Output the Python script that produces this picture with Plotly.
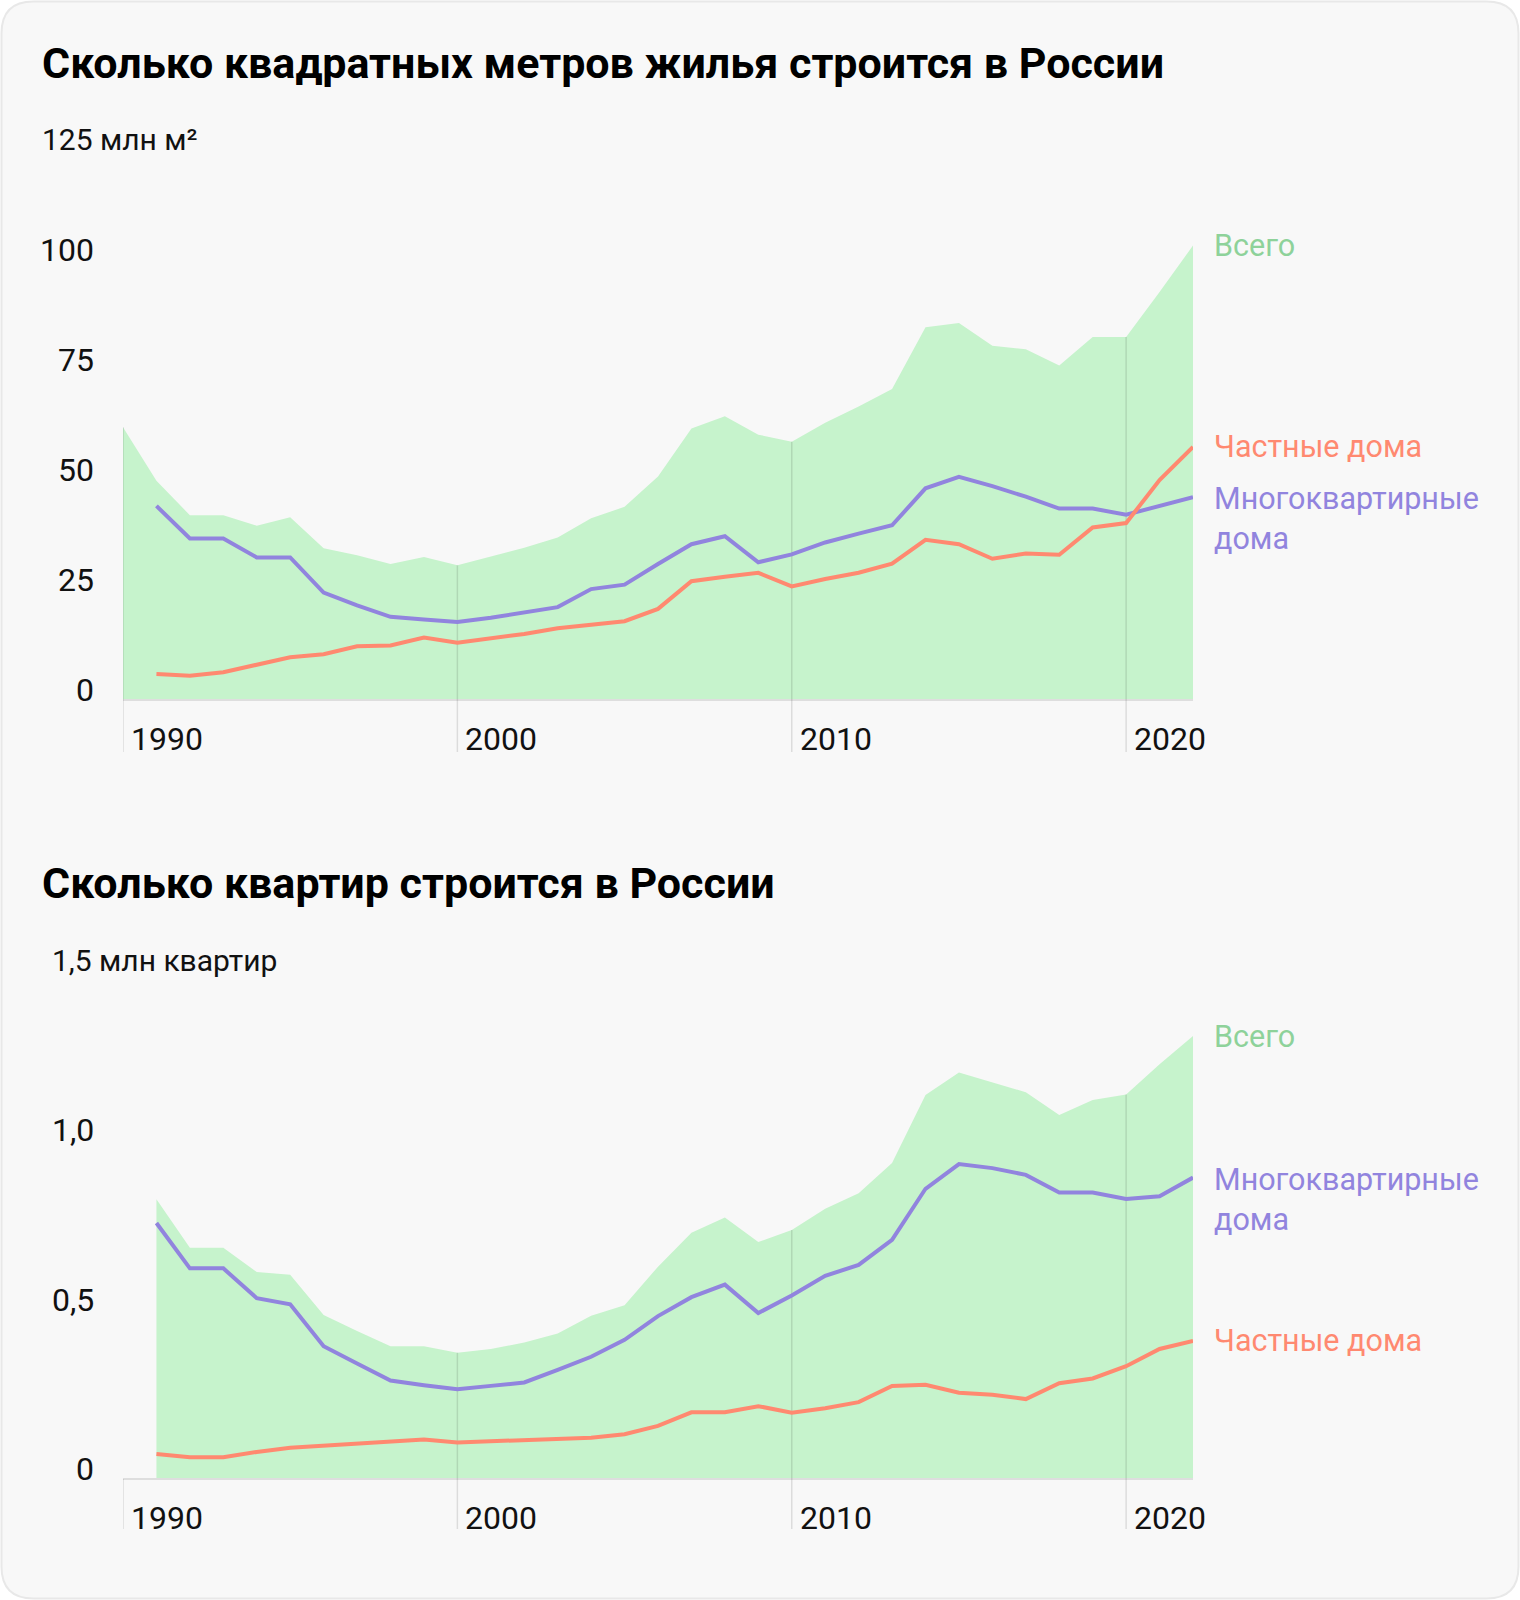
import plotly.graph_objects as go

# ---------------- data ----------------
years_total_top = list(range(1990, 2023))
total_m2 = [62.0, 49.8, 42.0, 42.0, 39.6, 41.5, 34.5, 32.9, 30.9, 32.5,
            30.6, 32.6, 34.6, 36.9, 41.3, 43.9, 50.8, 61.7, 64.5, 60.3,
            58.7, 63.0, 66.7, 70.7, 84.7, 85.7, 80.5, 79.7, 76.0, 82.5,
            82.5, 92.7, 103.3]

years_lines_top = list(range(1991, 2023))
private_m2 = [5.9, 5.5, 6.3, 8.0, 9.7, 10.4, 12.2, 12.4, 14.2, 13.0,
              14.0, 15.0, 16.3, 17.1, 17.9, 20.7, 27.0, 28.0, 28.9, 25.8,
              27.5, 28.9, 31.0, 36.4, 35.4, 32.1, 33.3, 33.0, 39.2, 40.2,
              50.0, 57.5]
multi_m2 = [44.1, 36.7, 36.7, 32.4, 32.4, 24.4, 21.5, 18.9, 18.3, 17.7,
            18.7, 19.9, 21.1, 25.2, 26.2, 30.9, 35.4, 37.2, 31.3, 33.1,
            35.8, 37.8, 39.7, 48.1, 50.7, 48.6, 46.2, 43.5, 43.5, 42.1,
            44.1, 46.1]

years_bottom = list(range(1991, 2023))
total_flats = [0.826, 0.683, 0.683, 0.611, 0.603, 0.484, 0.437, 0.392, 0.392, 0.373,
               0.384, 0.403, 0.430, 0.482, 0.513, 0.627, 0.727, 0.772, 0.700, 0.735,
               0.798, 0.844, 0.933, 1.134, 1.200, 1.170, 1.142, 1.075, 1.119, 1.135,
               1.225, 1.308]
multi_flats = [0.756, 0.622, 0.622, 0.534, 0.516, 0.392, 0.341, 0.291, 0.277, 0.265,
               0.275, 0.285, 0.322, 0.361, 0.411, 0.481, 0.537, 0.574, 0.490, 0.542,
               0.600, 0.632, 0.706, 0.857, 0.930, 0.918, 0.898, 0.846, 0.846, 0.827,
               0.835, 0.890]
private_flats = [0.074, 0.064, 0.064, 0.080, 0.092, 0.098, 0.105, 0.112, 0.117, 0.108,
                 0.112, 0.115, 0.118, 0.122, 0.132, 0.157, 0.197, 0.197, 0.215, 0.196,
                 0.209, 0.227, 0.275, 0.278, 0.255, 0.249, 0.236, 0.283, 0.297, 0.333,
                 0.384, 0.408]

x_ticks = [1990, 2000, 2010, 2020]
y_ticks_top = [0, 25, 50, 75, 100]
y_ticks_top_text = ["0", "25", "50", "75", "100"]
y_ticks_bottom = [0, 0.5, 1.0]
y_ticks_bottom_text = ["0", "0,5", "1,0"]

title_top = "Сколько квадратных метров жилья строится в России"
title_bottom = "Сколько квартир строится в России"
unit_top = "125 млн м²"
unit_bottom = "1,5 млн квартир"
name_total = "Всего"
name_private = "Частные дома"
name_multi = "Многоквартирные<br>дома"

# ---------------- style ----------------
W, H = 1520, 1600
FONT = "Roboto"
GREEN_FILL = "#c6f3cc"
GREEN_TEXT = "#8ed29a"
ORANGE = "#ff8970"
PURPLE = "#9184de"
GRID = "rgba(0,0,0,0.11)"
BASE = "#dedede"
BG = "#f8f8f8"

def px_x(p):
    return p / W

def px_y(p):
    return 1 - p / H

fig = go.Figure()

charts = [
    dict(xa="x", ya="y", tot_x=years_total_top, tot=total_m2,
         lx=years_lines_top, priv=private_m2, multi=multi_m2,
         yr=[-11.83, 125], dom=[px_y(752), px_y(150)]),
    dict(xa="x2", ya="y2", tot_x=years_bottom, tot=total_flats,
         lx=years_bottom, priv=private_flats, multi=multi_flats,
         yr=[-0.1476, 1.5], dom=[px_y(1529), px_y(971)]),
]

for c in charts:
    # total area
    fig.add_trace(go.Scatter(x=c["tot_x"], y=c["tot"], mode="lines", fill="tozeroy",
                             fillcolor=GREEN_FILL, line=dict(width=0, color=GREEN_FILL),
                             xaxis=c["xa"], yaxis=c["ya"], hoverinfo="skip", showlegend=False))
    # baseline
    fig.add_trace(go.Scatter(x=[x_ticks[0], c["tot_x"][-1]], y=[0, 0], mode="lines",
                             line=dict(width=2, color=BASE),
                             xaxis=c["xa"], yaxis=c["ya"], hoverinfo="skip", showlegend=False))
    # vertical year lines: from below axis up to total value
    for yr in x_ticks:
        top = c["tot"][c["tot_x"].index(yr)] if yr in c["tot_x"] else 0
        fig.add_trace(go.Scatter(x=[yr, yr], y=[c["yr"][0], top], mode="lines",
                                 line=dict(width=1.5, color=GRID),
                                 xaxis=c["xa"], yaxis=c["ya"], hoverinfo="skip", showlegend=False))
    # lines
    fig.add_trace(go.Scatter(x=c["lx"], y=c["multi"], mode="lines",
                             line=dict(width=4, color=PURPLE),
                             xaxis=c["xa"], yaxis=c["ya"], hoverinfo="skip", showlegend=False))
    fig.add_trace(go.Scatter(x=c["lx"], y=c["priv"], mode="lines",
                             line=dict(width=4, color=ORANGE),
                             xaxis=c["xa"], yaxis=c["ya"], hoverinfo="skip", showlegend=False))

axis_common = dict(showgrid=False, zeroline=False, showticklabels=False,
                   showline=False, ticks="", fixedrange=True)
xdom = [px_x(123), px_x(1193)]
fig.update_layout(
    xaxis=dict(domain=xdom, range=[1990, 2022], anchor="y", **axis_common),
    yaxis=dict(domain=charts[0]["dom"], range=charts[0]["yr"], anchor="x", **axis_common),
    xaxis2=dict(domain=xdom, range=[1990, 2022], anchor="y2", **axis_common),
    yaxis2=dict(domain=charts[1]["dom"], range=charts[1]["yr"], anchor="x2", **axis_common),
)

ann = []
num_font = dict(family=FONT, size=32, color="#111111")
unit_font = dict(family=FONT, size=30, color="#111111")
label_font = 30.5

# titles
for text, ypx in [(title_top, 63), (title_bottom, 883)]:
    ann.append(dict(text="<b>" + text + "</b>", x=px_x(40), y=px_y(ypx), xref="paper", yref="paper",
                    xanchor="left", yanchor="middle", showarrow=False,
                    font=dict(family=FONT, size=43, color="#000000")))

# unit labels
ann.append(dict(text=unit_top, x=px_x(40), y=125, xref="paper", yref="y", yshift=11,
                xanchor="left", yanchor="middle", showarrow=False, font=unit_font))
ann.append(dict(text=unit_bottom, x=px_x(50), y=1.5, xref="paper", yref="y2", yshift=11,
                xanchor="left", yanchor="middle", showarrow=False, font=unit_font))

# y tick labels
for v, t in zip(y_ticks_top, y_ticks_top_text):
    ann.append(dict(text=t, x=px_x(96), y=v, xref="paper", yref="y", yshift=10,
                    xanchor="right", yanchor="middle", showarrow=False, font=num_font))
for v, t in zip(y_ticks_bottom, y_ticks_bottom_text):
    ann.append(dict(text=t, x=px_x(96), y=v, xref="paper", yref="y2", yshift=10,
                    xanchor="right", yanchor="middle", showarrow=False, font=num_font))

# x tick labels
for yr in x_ticks:
    ann.append(dict(text=str(yr), x=yr, y=px_y(739), xref="x", yref="paper", xshift=6,
                    xanchor="left", yanchor="middle", showarrow=False, font=num_font))
    ann.append(dict(text=str(yr), x=yr, y=px_y(1518), xref="x2", yref="paper", xshift=6,
                    xanchor="left", yanchor="middle", showarrow=False, font=num_font))

# series labels at right
for c in charts:
    xe = c["lx"][-1]
    ann.append(dict(text=name_total, x=c["tot_x"][-1], y=c["tot"][-1], xref=c["xa"], yref=c["ya"],
                    xshift=19, xanchor="left", yanchor="middle", showarrow=False,
                    font=dict(family=FONT, size=label_font, color=GREEN_TEXT)))
    ann.append(dict(text=name_private, x=xe, y=c["priv"][-1], xref=c["xa"], yref=c["ya"],
                    xshift=19, xanchor="left", yanchor="middle", showarrow=False,
                    font=dict(family=FONT, size=label_font, color=ORANGE)))
    ann.append(dict(text=name_multi, x=xe, y=c["multi"][-1], xref=c["xa"], yref=c["ya"],
                    xshift=19, yshift=18, xanchor="left", yanchor="top", align="left",
                    showarrow=False,
                    font=dict(family=FONT, size=label_font, color=PURPLE)))

# rounded card background
r = 32
x0, x1, y0, y1 = 1.5, W - 1.5, 1.5, H - 1.5
def P(xp, yp):
    return f"{px_x(xp):.5f},{px_y(yp):.5f}"
path = (f"M {P(x0 + r, y0)} L {P(x1 - r, y0)} Q {P(x1, y0)} {P(x1, y0 + r)} "
        f"L {P(x1, y1 - r)} Q {P(x1, y1)} {P(x1 - r, y1)} "
        f"L {P(x0 + r, y1)} Q {P(x0, y1)} {P(x0, y1 - r)} "
        f"L {P(x0, y0 + r)} Q {P(x0, y0)} {P(x0 + r, y0)} Z")

fig.update_layout(
    width=W, height=H,
    margin=dict(l=0, r=0, t=0, b=0),
    paper_bgcolor="#ffffff",
    plot_bgcolor="rgba(0,0,0,0)",
    showlegend=False,
    annotations=ann,
    shapes=[dict(type="path", path=path, xref="paper", yref="paper",
                 fillcolor=BG, line=dict(color="#e8e8e8", width=2), layer="below")],
    font=dict(family=FONT),
)

fig.write_html("out.html", config={"displayModeBar": False},
               post_script="document.body.style.margin='0px';document.body.style.padding='0px';")
